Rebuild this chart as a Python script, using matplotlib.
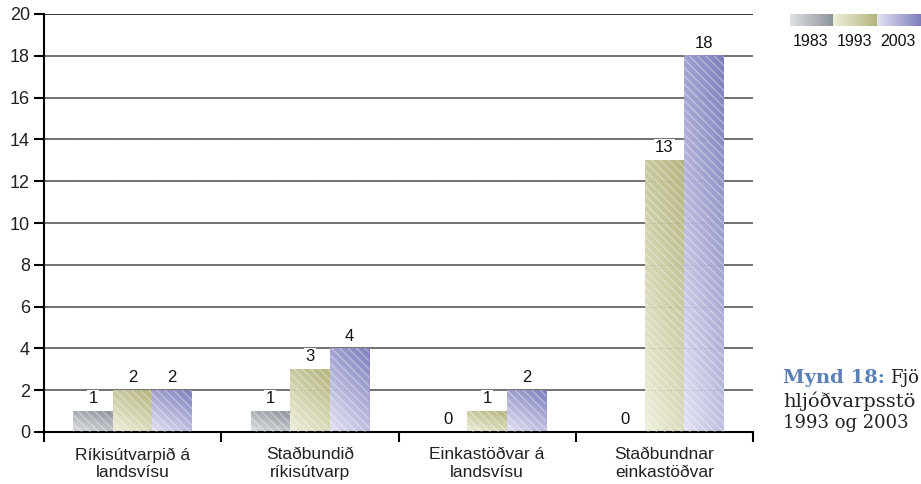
import numpy as np
import matplotlib
matplotlib.use("Agg")
import matplotlib.pyplot as plt
from matplotlib.colors import to_rgb

# ---- data ----
categories = ["Ríkisútvarpið á\nlandsvísu", "Staðbundið\nríkisútvarp",
              "Einkastöðvar á\nlandsvísu", "Staðbundnar\neinkastöðvar"]
years = ["1983", "1993", "2003"]
v1983 = [1, 1, 0, 0]
v1993 = [2, 3, 1, 13]
v2003 = [2, 4, 2, 18]
series = [v1983, v1993, v2003]

# light (bottom-left) -> dark (top-right) colours for each year
grad_cols = [("#dde0e3", "#8c939a"),
             ("#efefdc", "#b4b47e"),
             ("#e2e2f3", "#7e7ebd")]

plt.rcParams["font.family"] = ["Liberation Sans", "DejaVu Sans"]

fig = plt.figure(figsize=(9.21, 4.84), dpi=100)
ax = fig.add_axes([44 / 921, 52 / 484, (753 - 44) / 921, 418 / 484])


def grad_img(c_light, c_dark, wu=0.35, wv=0.65, n=60):
    u = np.linspace(0, 1, n)[None, :]
    v = np.linspace(1, 0, n)[:, None]
    t = wu * u + wv * v
    a = np.array(to_rgb(c_light))
    b = np.array(to_rgb(c_dark))
    return a + (b - a) * t[..., None]


bw = 0.223
x = np.arange(len(categories))

# grid lines behind
for yv in range(2, 21, 2):
    ax.axhline(yv, color="black" if yv == 20 else "#4a4a4a", lw=1.1, zorder=0)

for i, vals in enumerate(series):
    img = grad_img(*grad_cols[i])
    for j, val in enumerate(vals):
        xc = x[j] + (i - 1) * bw
        if val > 0:
            ax.imshow(img, extent=[xc - bw / 2, xc + bw / 2, 0, val],
                      aspect="auto", zorder=2, interpolation="bilinear")
            ax.bar(xc, val, bw, fill=False, hatch="\\\\\\\\",
                   edgecolor=(1, 1, 1, 0.35), lw=0, zorder=3)
        ax.annotate(str(val), (xc, val), xytext=(0, 3.5), textcoords="offset points",
                    ha="center", va="bottom", fontsize=12, color="#111111", zorder=5,
                    bbox=dict(fc="white", ec="none", pad=1.0))

# faint dotted grid showing through the bars
for yv in range(2, 20, 2):
    ax.axhline(yv, color="#777777", lw=0.6, ls=(0, (1, 3)), alpha=0.5, zorder=4)

ax.set_xlim(-0.5, len(categories) - 0.5)
ax.set_ylim(0, 20)
ax.set_yticks(range(0, 21, 2))
ax.set_xticks(np.arange(-0.5, len(categories)), [""] * (len(categories) + 1))
ax.set_xticks(x, categories, minor=True)
ax.tick_params(axis="x", which="minor", length=0, pad=11, labelsize=12.5, labelcolor="#222222")
ax.tick_params(axis="x", which="major", length=7, width=1.5, direction="out")
ax.tick_params(axis="y", length=7, width=1.5, direction="out", labelsize=13,
               labelcolor="#222222", pad=3)
for s in ["top", "right"]:
    ax.spines[s].set_visible(False)
for s in ["left", "bottom"]:
    ax.spines[s].set_linewidth(1.5)

# legend swatches
lx = [790, 833, 877]
for i, yr in enumerate(years):
    la = fig.add_axes([lx[i] / 921, (484 - 26) / 484, 44 / 921, 12 / 484])
    la.imshow(grad_img(*grad_cols[i], wu=1.0, wv=0.0), aspect="auto",
              interpolation="bilinear")
    la.axis("off")
    fig.text((lx[i] + 21) / 921, 1 - 41 / 484, yr, ha="center", va="center",
             fontsize=11.5, color="#111111")

# caption - only the part visible in the source (it runs off the right edge)
cap_font = ["DejaVu Serif"]
fig.text(783 / 921, 1 - 378 / 484, "Mynd 18:", ha="left", va="center",
         fontsize=14, fontweight="bold", color="#5b7fb7", family=cap_font)
fig.text(890 / 921, 1 - 378 / 484, "Fjö", ha="left", va="center",
         fontsize=13, color="#222222", family=cap_font)
fig.text(783 / 921, 1 - 401 / 484, "hljóðvarpsstö", ha="left", va="center",
         fontsize=14, color="#222222", family=cap_font)
fig.text(783 / 921, 1 - 423 / 484, "1993 og 2003", ha="left", va="center",
         fontsize=13, color="#222222", family=cap_font)

fig.savefig("out.png", dpi=100)
